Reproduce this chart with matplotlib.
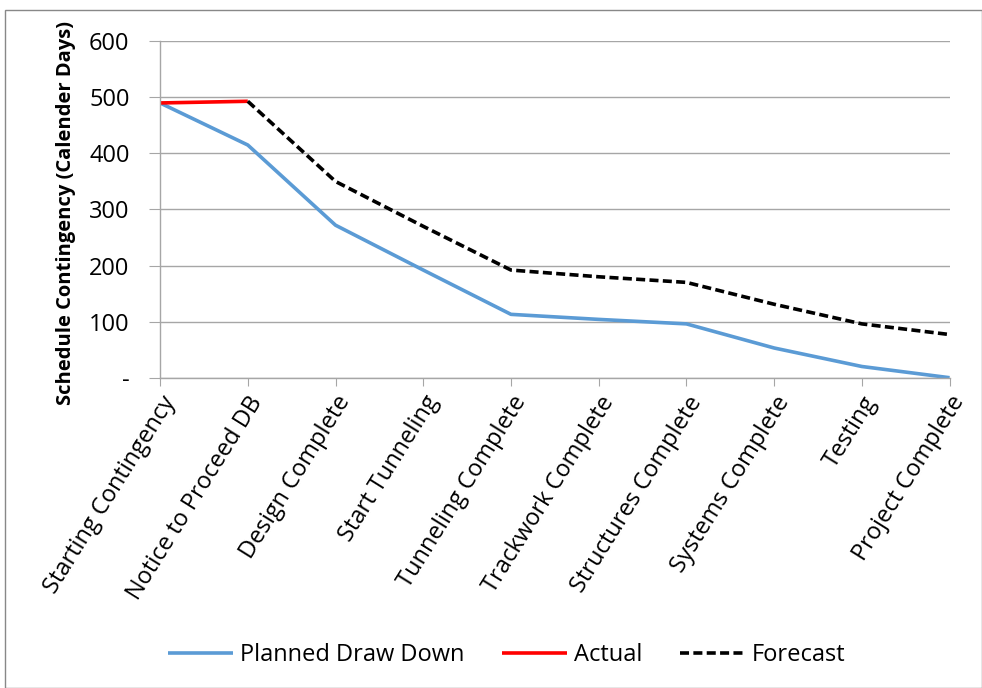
import matplotlib
matplotlib.use("Agg")
import matplotlib.pyplot as plt
import numpy as np

categories = ["Starting Contingency", "Notice to Proceed DB", "Design Complete",
              "Start Tunneling", "Tunneling Complete", "Trackwork Complete",
              "Structures Complete", "Systems Complete", "Testing", "Project Complete"]
planned = [490, 415, 272, 192, 113, 104, 96, 53, 20, 0]
actual = [490, 493]
forecast = [None, 493, 350, 270, 192, 180, 170, 131, 96, 77]
y_ticks = [0, 100, 200, 300, 400, 500, 600]
y_tick_labels = ["-", "100", "200", "300", "400", "500", "600"]

plt.rcParams['font.family'] = ['Open Sans', 'DejaVu Sans']
FS = 17

fig = plt.figure(figsize=(9.82, 6.88), dpi=100)
ax = fig.add_axes([0.163, 0.451, 0.804, 0.489])

x = np.arange(len(categories))
ax.plot(x, planned, color='#5B9BD5', lw=2.6, label='Planned Draw Down', solid_capstyle='butt')
ax.plot(x[:len(actual)], actual, color='#FF0000', lw=2.6, label='Actual', solid_capstyle='butt')
fx = [i for i, v in enumerate(forecast) if v is not None]
fy = [v for v in forecast if v is not None]
ax.plot(fx, fy, color='black', lw=2.6, ls=(0, (2.5, 1.2)), label='Forecast')

ax.set_xlim(0, len(categories) - 1)
ax.set_ylim(0, 600)
ax.set_yticks(y_ticks)
ax.set_yticklabels(y_tick_labels, fontsize=FS)
ax.yaxis.grid(True, color='#A6A6A6', lw=1)
ax.set_axisbelow(True)
ax.tick_params(axis='y', length=8, color='#A6A6A6', pad=14)
ax.set_xticks(x)
ax.set_xticklabels(categories, rotation=58, ha='right', va='top',
                   rotation_mode='anchor', fontsize=FS)
ax.tick_params(axis='x', length=6, color='#A6A6A6', pad=4)
for s in ['top', 'right']:
    ax.spines[s].set_visible(False)
for s in ['left', 'bottom']:
    ax.spines[s].set_color('#A6A6A6')
    ax.spines[s].set_linewidth(1)

fig.text(66 / 982, 1 - 213 / 688, 'Schedule Contingency (Calender Days)', fontsize=14.5,
         fontweight='bold', rotation=90, ha='center', va='center')

fig.legend(loc='center', bbox_to_anchor=(0.516, 0.048), ncol=3, frameon=False,
           fontsize=FS, handlelength=2.75, columnspacing=1.6, handletextpad=0.3)

border = plt.Rectangle((0.005, 0.0), 0.995, 0.985, transform=fig.transFigure,
                       fill=False, edgecolor='#888888', lw=1)
fig.patches.append(border)

fig.savefig('out.png', dpi=100)
